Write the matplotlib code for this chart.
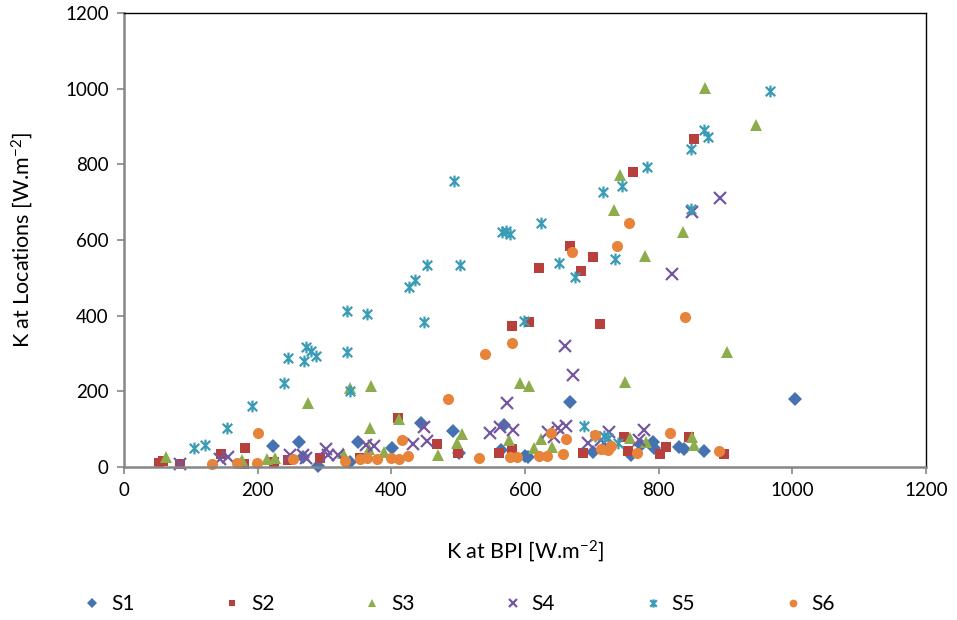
import matplotlib
matplotlib.use('Agg')
import matplotlib.pyplot as plt
from matplotlib.path import Path

plt.rcParams['font.family'] = ['Lato', 'DejaVu Sans']
plt.rcParams['mathtext.default'] = 'regular'

# values (K at BPI, K at locations)
s1_x = [223, 262, 268, 290, 338, 350, 667, 444, 492, 401, 569, 564, 600, 604, 501,
        702, 718, 1004, 792, 793, 759, 830, 838, 868, 774]
s1_y = [56, 66, 26, 3, 13, 66, 172, 117, 95, 50, 111, 45, 29, 26, 37,
        40, 50, 180, 66, 50, 32, 53, 48, 42, 58]

s2_x = [52, 58, 84, 145, 181, 180, 224, 245, 293, 353, 581, 606, 762, 667, 702, 621,
        684, 712, 853, 410, 468, 500, 561, 581, 687, 748, 754, 802, 811, 845, 898]
s2_y = [11, 16, 8, 34, 50, 8, 13, 19, 24, 24, 374, 384, 779, 585, 556, 525,
        519, 379, 866, 130, 61, 37, 37, 48, 37, 79, 42, 34, 53, 79, 34]

s3_x = [63, 177, 214, 226, 275, 338, 370, 368, 367, 328, 593, 606, 742, 733, 836, 780,
        902, 750, 869, 946, 411, 506, 498, 470, 576, 624, 640, 613, 389, 757, 781, 850, 853]
s3_y = [26, 19, 21, 24, 170, 209, 215, 103, 48, 37, 223, 215, 771, 678, 620, 559,
        305, 225, 1001, 903, 127, 87, 64, 32, 72, 74, 53, 50, 40, 77, 66, 79, 58]

s4_x = [84, 144, 156, 248, 268, 272, 302, 305, 320, 362, 672, 573, 548, 563, 582, 449,
        453, 432, 374, 634, 649, 661, 643, 726, 714, 694, 892, 850, 820, 660, 778, 771]
s4_y = [8, 21, 26, 32, 32, 24, 48, 32, 32, 58, 244, 170, 90, 106, 98, 106,
        69, 61, 56, 93, 103, 109, 79, 93, 72, 64, 710, 675, 511, 321, 98, 72]

s5_x = [105, 121, 154, 192, 239, 338, 494, 566, 572, 578, 453, 503, 435, 426, 334, 364,
        449, 599, 334, 272, 280, 287, 269, 245, 848, 783, 745, 717, 624, 651, 675, 735,
        848, 967, 868, 874, 688, 705, 718, 724, 739]
s5_y = [50, 58, 103, 162, 223, 201, 755, 620, 625, 617, 535, 535, 493, 477, 413, 405,
        384, 387, 305, 318, 307, 294, 281, 289, 840, 792, 742, 728, 646, 540, 501, 551,
        681, 993, 890, 872, 109, 82, 82, 77, 64]

s6_x = [200, 132, 169, 199, 253, 331, 353, 364, 379, 581, 540, 485, 756, 738, 670, 839,
        416, 639, 661, 657, 705, 714, 724, 729, 531, 400, 411, 425, 578, 588, 621, 633,
        817, 768, 890]
s6_y = [90, 8, 11, 11, 21, 16, 21, 24, 21, 328, 299, 180, 646, 585, 567, 397,
        72, 90, 74, 34, 85, 48, 45, 56, 24, 24, 21, 29, 26, 26, 29, 29,
        90, 37, 42]

labels = ['S1', 'S2', 'S3', 'S4', 'S5', 'S6']
ticks = [0, 200, 400, 600, 800, 1000, 1200]

star = Path([(-1, -1), (1, 1), (-1, 1), (1, -1), (0, -1.25), (0, 1.25)],
            [Path.MOVETO, Path.LINETO, Path.MOVETO, Path.LINETO, Path.MOVETO, Path.LINETO])

styles = [
    dict(marker='D', ms=7.5, color='#4572B0'),
    dict(marker='s', ms=7, color='#B8403C'),
    dict(marker='^', ms=8, color='#8DAC4C'),
    dict(marker='x', ms=8, color='#7457A0', mew=1.6),
    dict(marker=star, ms=8.5, color='#3A9BB6', mew=1.6),
    dict(marker='o', ms=8, color='#E8843A'),
]

series = [(s1_x, s1_y), (s2_x, s2_y), (s3_x, s3_y), (s4_x, s4_y), (s5_x, s5_y), (s6_x, s6_y)]

fig = plt.figure(figsize=(9.57, 6.2), dpi=100)
ax = fig.add_axes([124 / 957, 1 - 467 / 620, 802 / 957, 454 / 620])

for (xs, ys), st, lab in zip(series, styles, labels):
    mfc = 'none' if st['marker'] in ('x', star) else st['color']
    ax.plot(xs, ys, linestyle='none', marker=st['marker'], markersize=st['ms'],
            markerfacecolor=mfc, markeredgecolor=st['color'],
            markeredgewidth=st.get('mew', 0), label=lab, clip_on=False)

ax.set_xlim(0, 1200)
ax.set_ylim(0, 1200)
ax.set_xticks(ticks)
ax.set_yticks(ticks)

for side in ['left', 'bottom']:
    ax.spines[side].set_color('#868686')
    ax.spines[side].set_linewidth(1.8)
for side in ['top', 'right']:
    ax.spines[side].set_color('black')
    ax.spines[side].set_linewidth(1.0)

ax.tick_params(axis='both', direction='out', length=5, width=1.2, color='#868686',
               labelsize=13.5, pad=6)

ax.set_xlabel('K at BPI [W.m$^{-2}$]', fontsize=15.5, labelpad=28)
ax.set_ylabel('K at Locations [W.m$^{-2}$]', fontsize=15.5, labelpad=22)

fig.legend(loc='center', bbox_to_anchor=(0.479, 1 - 604 / 620), ncol=6, frameon=False,
           fontsize=15, markerscale=0.7, handlelength=1.0, handletextpad=0.4,
           columnspacing=4.2)

fig.savefig('out.png', dpi=100)
